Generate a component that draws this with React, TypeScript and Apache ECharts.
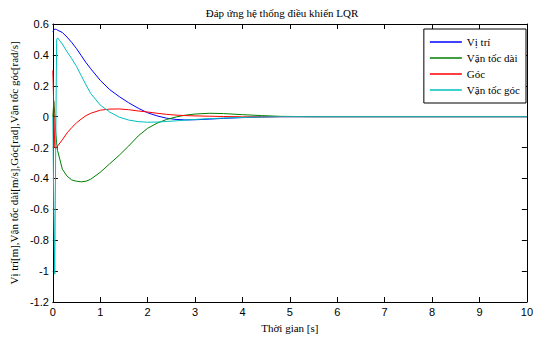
import React, { useEffect, useRef } from "react";
import * as echarts from "echarts";

const time = [0, 0.02, 0.04, 0.06, 0.08, 0.1, 0.2, 0.3, 0.4, 0.5, 0.6, 0.7, 0.8, 1.0, 1.2, 1.4, 1.6, 1.8, 2.0, 2.2, 2.4, 2.6, 2.8, 3.0, 3.3, 3.6, 4.0, 4.4, 4.8, 5.5, 10];

const viTri = [0.55, 0.56, 0.567, 0.566, 0.564, 0.56, 0.545, 0.515, 0.48, 0.44, 0.395, 0.35, 0.31, 0.235, 0.175, 0.13, 0.09, 0.055, 0.025, 0.005, -0.01, -0.018, -0.021, -0.02, -0.016, -0.011, -0.006, -0.002, 0, 0, 0];

const vanTocDai = [0, 0.1, 0.02, -0.1, -0.17, -0.22, -0.34, -0.385, -0.41, -0.418, -0.422, -0.418, -0.405, -0.36, -0.305, -0.25, -0.19, -0.125, -0.075, -0.042, -0.018, -0.002, 0.01, 0.017, 0.022, 0.02, 0.013, 0.007, 0.002, 0, 0];

const goc = [0.3, 0.05, -0.2, -0.207, -0.2, -0.19, -0.15, -0.105, -0.07, -0.04, -0.015, 0.007, 0.022, 0.042, 0.049, 0.05, 0.045, 0.037, 0.03, 0.022, 0.015, 0.01, 0.007, 0.005, 0.003, 0.001, -0.001, -0.001, 0, 0, 0];

const vanTocGoc = [0, -0.6, -1.02, -0.2, 0.5, 0.51, 0.47, 0.42, 0.375, 0.325, 0.265, 0.205, 0.15, 0.075, 0.03, -0.003, -0.022, -0.032, -0.036, -0.035, -0.031, -0.027, -0.022, -0.018, -0.013, -0.009, -0.005, -0.002, 0, 0, 0];

const seriesNames = ["Vị trí", "Vận tốc dài", "Góc", "Vận tốc góc"];
const seriesColors = ["#0000ff", "#008000", "#ff0000", "#00bfbf"];
const seriesValues = [viTri, vanTocDai, goc, vanTocGoc];

const titleText = "Đáp ứng hệ thống điều khiển LQR";
const xName = "Thời gian [s]";
const yName = "Vị trí[m],Vận tốc dài[m/s],Góc[rad],Vận tốc góc[rad/s]";

const SERIF = "'Liberation Serif', 'Times New Roman', serif";
const SANS = "'Liberation Sans', Arial, sans-serif";

export default function App() {
  const ref = useRef<HTMLDivElement>(null);
  useEffect(() => {
    if (!ref.current) return;
    const chart = echarts.init(ref.current, undefined, { renderer: "svg" });
    const axisCommon = {
      axisLine: { show: true, onZero: false, lineStyle: { color: "#000", width: 1 } },
      axisTick: { show: true, inside: true, length: 5, lineStyle: { color: "#000" } },
      splitLine: { show: false },
    };
    chart.setOption({
      animation: false,
      backgroundColor: "#fff",
      grid: { left: 50, right: 8, top: 24, bottom: 33, containLabel: false },
      graphic: [
        {
          type: "text",
          x: 282,
          y: 13,
          style: {
            text: titleText,
            font: `11px ${SERIF}`,
            fill: "#000",
            textAlign: "center",
            textVerticalAlign: "middle",
          },
        },
      ],
      legend: {
        orient: "vertical",
        right: 10,
        top: 29,
        align: "left",
        icon: "rect",
        itemWidth: 32,
        itemHeight: 1.5,
        itemGap: 2,
        padding: [6, 6, 6, 6],
        borderColor: "#000",
        borderWidth: 1,
        backgroundColor: "#fff",
        borderRadius: 0,
        textStyle: { fontFamily: SERIF, fontSize: 11, color: "#000", lineHeight: 14 },
        data: seriesNames,
      },
      xAxis: [
        {
          type: "value",
          min: 0,
          max: 10,
          interval: 1,
          position: "bottom",
          name: xName,
          nameLocation: "middle",
          nameGap: 20,
          nameTextStyle: { fontFamily: SERIF, fontSize: 11, color: "#000" },
          axisLabel: { fontFamily: SANS, fontSize: 11, color: "#000", margin: 4 },
          ...axisCommon,
        },
        {
          type: "value",
          min: 0,
          max: 10,
          interval: 1,
          position: "top",
          axisLabel: { show: false },
          ...axisCommon,
        },
      ],
      yAxis: [
        {
          type: "value",
          min: -1.2,
          max: 0.6,
          interval: 0.2,
          position: "left",
          name: yName,
          nameLocation: "middle",
          nameGap: 27,
          nameTextStyle: { fontFamily: SERIF, fontSize: 11, color: "#000" },
          axisLabel: {
            fontFamily: SANS,
            fontSize: 11,
            color: "#000",
            margin: 4,
            formatter: (v: number) => String(Math.round(v * 10) / 10),
          },
          ...axisCommon,
        },
        {
          type: "value",
          min: -1.2,
          max: 0.6,
          interval: 0.2,
          position: "right",
          axisLabel: { show: false },
          ...axisCommon,
        },
      ],
      series: seriesNames.map((name, i) => ({
        name,
        type: "line",
        xAxisIndex: 0,
        yAxisIndex: 0,
        symbol: "none",
        smooth: false,
        clip: true,
        color: seriesColors[i],
        lineStyle: { color: seriesColors[i], width: 1 },
        data: time.map((t, k) => [t, seriesValues[i][k]]),
      })),
    });
    return () => chart.dispose();
  }, []);
  return <div ref={ref} style={{ width: 536, height: 338, position: "absolute", left: 0, top: 0 }} />;
}
